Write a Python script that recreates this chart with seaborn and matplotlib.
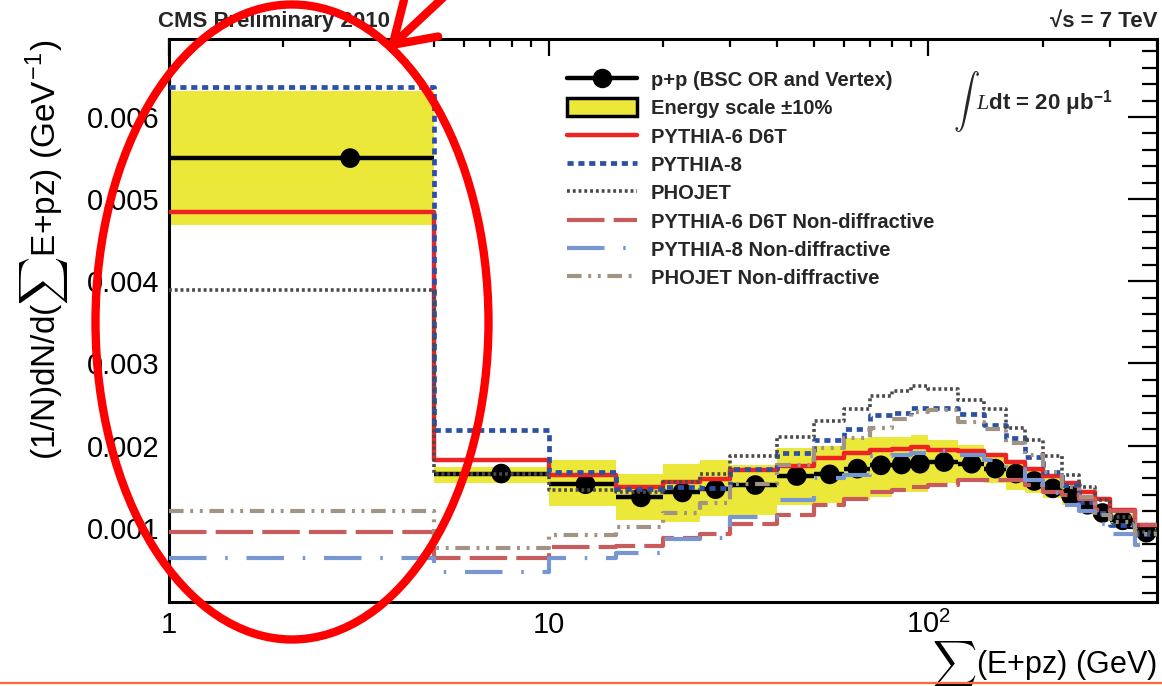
import numpy as np
import pandas as pd
import matplotlib
matplotlib.use("Agg")
import matplotlib.pyplot as plt
import seaborn as sns
from matplotlib.patches import Ellipse, Rectangle, FancyArrowPatch
from matplotlib.lines import Line2D
from matplotlib.ticker import (FixedLocator, FixedFormatter, MultipleLocator,
                               FuncFormatter, NullFormatter)

# ---------------- data ----------------
bin_edges = [1, 5, 10, 15, 20, 25, 30, 40, 50, 60, 70, 80, 90, 100, 120, 140,
             160, 180, 200, 225, 250, 275, 300, 350, 400]

data_pp = [0.00550, 0.00166, 0.00153, 0.00137, 0.00143, 0.00147, 0.00152, 0.00163,
           0.00165, 0.00172, 0.00176, 0.00177, 0.00178, 0.00180, 0.00178, 0.00172,
           0.00166, 0.00157, 0.00148, 0.00139, 0.00128, 0.00118, 0.00109, 0.00094]

escale_lo = [0.00469, 0.00154, 0.00126, 0.00109, 0.00107, 0.00114, 0.00116, 0.00128,
             0.00130, 0.00134, 0.00138, 0.00144, 0.00144, 0.00154, 0.00158, 0.00154,
             0.00146, 0.00142, 0.00136, 0.00128, 0.00119, 0.00110, 0.00102, 0.00088]
escale_hi = [0.00632, 0.00174, 0.00182, 0.00166, 0.00178, 0.00182, 0.00176, 0.00197,
             0.00200, 0.00209, 0.00211, 0.00211, 0.00213, 0.00207, 0.00201, 0.00191,
             0.00180, 0.00170, 0.00160, 0.00150, 0.00138, 0.00127, 0.00117, 0.00100]

pythia6_d6t = [0.004845, 0.001825, 0.00164, 0.00150, 0.00156, 0.00159, 0.00170, 0.00175,
               0.00185, 0.00191, 0.00195, 0.00196, 0.00198, 0.00195, 0.00193, 0.00189,
               0.00180, 0.00172, 0.00163, 0.00154, 0.00144, 0.00135, 0.00122, 0.00103]
pythia8 = [0.00636, 0.00219, 0.00168, 0.00147, 0.00150, 0.00149, 0.00172, 0.00191,
           0.00207, 0.00220, 0.00237, 0.00240, 0.00246, 0.00246, 0.00239, 0.00225,
           0.00209, 0.00186, 0.00168, 0.00152, 0.00131, 0.00118, 0.00103, 0.00093]
phojet = [0.00389, 0.00165, 0.00146, 0.00144, 0.00156, 0.00166, 0.00187, 0.00210,
          0.00230, 0.00245, 0.00260, 0.00267, 0.00272, 0.00269, 0.00256, 0.00244,
          0.00221, 0.00207, 0.00187, 0.00164, 0.00150, 0.00134, 0.00113, 0.00095]
pythia6_nd = [0.000952, 0.000627, 0.00077, 0.00078, 0.00087, 0.00092, 0.00105, 0.00116,
              0.00128, 0.00135, 0.00143, 0.00146, 0.00150, 0.00152, 0.00158, 0.00158,
              0.00158, 0.00152, 0.00144, 0.00140, 0.00135, 0.00122, 0.00120, 0.00103]
pythia8_nd = [0.000627, 0.000464, 0.000627, 0.000688, 0.00086, 0.00088, 0.00113, 0.00134,
              0.00160, 0.00164, 0.00187, 0.00189, 0.00191, 0.00193, 0.00189, 0.00183,
              0.00172, 0.00158, 0.00142, 0.00128, 0.00120, 0.00105, 0.00093, 0.00079]
phojet_nd = [0.00120, 0.000757, 0.000911, 0.00101, 0.00118, 0.00130, 0.00153, 0.00176,
             0.00197, 0.00209, 0.00221, 0.00233, 0.00241, 0.00243, 0.00229, 0.00220,
             0.00203, 0.00189, 0.00168, 0.00150, 0.00138, 0.00116, 0.00107, 0.00093]

labels = ["p+p (BSC OR and Vertex)", "Energy scale \u00b110%", "PYTHIA-6 D6T",
          "PYTHIA-8", "PHOJET", "PYTHIA-6 D6T Non-diffractive",
          "PYTHIA-8 Non-diffractive", "PHOJET Non-diffractive"]
x_tick_values = [1, 10, 100]
x_tick_labels = ["1", "10", r"10$^{\mathregular{2}}$"]

# ---------------- style ----------------
sns.set_theme(style="white")
plt.rcParams["font.family"] = ["Liberation Sans", "DejaVu Sans"]
plt.rcParams["mathtext.fontset"] = "custom"
plt.rcParams["mathtext.rm"] = "Liberation Sans"
plt.rcParams["mathtext.it"] = "Liberation Serif:italic"
plt.rcParams["mathtext.bf"] = "Liberation Sans:bold"

YELLOW = "#ece83a"
RED = "#ee2424"
BLUE = "#2c50a4"
DGRAY = "#4a4a4a"
ROSE = "#c85c5c"
LBLUE = "#7896d2"
TAUPE = "#a29483"

W, H = 1162, 686
fig = plt.figure(figsize=(W / 100, H / 100), dpi=100)
ax = fig.add_axes([169 / W, 1 - 601.7 / H, 988 / W, (601.7 - 39) / H])
ax.set_xscale("log")

# energy scale band
ax.fill_between(bin_edges, escale_lo + [escale_lo[-1]], escale_hi + [escale_hi[-1]],
                step="post", color=YELLOW, lw=0, zorder=1)

# data
centers = [(a + b) / 2 for a, b in zip(bin_edges[:-1], bin_edges[1:])]
ax.hlines(data_pp, bin_edges[:-1], bin_edges[1:], colors="black", lw=3.2, zorder=3)
sns.scatterplot(x=centers, y=data_pp, s=200, color="black", edgecolor="none",
                zorder=4, ax=ax, legend=False)

# MC step curves
mc = [
    (pythia6_d6t, RED, "-", 3.2),
    (pythia8, BLUE, (0, (1.3, 1.0)), 3.4),
    (phojet, DGRAY, (0, (0.8, 0.8)), 2.6),
    (pythia6_nd, ROSE, (0, (9, 2.2)), 3.0),
    (pythia8_nd, LBLUE, (0, (9, 4.5, 0.6, 4.5)), 3.0),
    (phojet_nd, TAUPE, (0, (3.5, 1.6, 0.7, 1.6, 0.7, 1.6)), 3.0),
]
handles = [
    Line2D([], [], color="black", lw=3.2, marker="o", ms=13),
    Rectangle((0, 0), 1, 1, facecolor=YELLOW, edgecolor="black", lw=2.5),
]
for i, (vals, col, ls, lw) in enumerate(mc):
    sns.lineplot(x=bin_edges, y=list(vals) + [vals[-1]], drawstyle="steps-post",
                 color=col, linestyle=ls, lw=lw, ax=ax, zorder=5 + i,
                 estimator=None, sort=False, legend=False)
    handles.append(Line2D([], [], color=col, linestyle=ls, lw=lw))

# axes
ax.set_xlim(1, 400)
ax.set_ylim(0.0001, 0.00695)
ax.xaxis.set_major_locator(FixedLocator(x_tick_values))
ax.xaxis.set_major_formatter(FixedFormatter(x_tick_labels))
minors = [m * d for d in (1, 10, 100) for m in range(2, 10) if m * d <= 400]
ax.xaxis.set_minor_locator(FixedLocator(minors))
ax.xaxis.set_minor_formatter(NullFormatter())
ax.yaxis.set_major_locator(MultipleLocator(0.001))
ax.yaxis.set_minor_locator(MultipleLocator(0.0002))
ax.yaxis.set_major_formatter(FuncFormatter(lambda v, p: f"{v:.3f}"))

ax.tick_params(which="both", direction="in", top=True, right=True,
               labelsize=21, colors="black")
ax.tick_params(axis="x", which="major", length=12, width=1.6, pad=7)
ax.tick_params(axis="x", which="minor", length=6, width=1.6)
ax.tick_params(axis="y", which="major", length=21, width=1.6, pad=7)
ax.tick_params(axis="y", which="minor", length=11, width=1.6)
for s in ax.spines.values():
    s.set_linewidth(2.2)
    s.set_color("black")

ax.set_ylabel(r"(1/N)dN/d($\sum$E+pz) (GeV$^{\mathregular{-1}}$)", fontsize=24,
              loc="top", math_fontfamily="cm", color="black")
ax.yaxis.set_label_coords(-0.1, 1.0)
ax.set_xlabel(r"$\sum$(E+pz) (GeV)", fontsize=22, loc="right",
              math_fontfamily="cm", color="black")
ax.xaxis.set_label_coords(1.0, -0.066)

leg = ax.legend(handles, labels, loc="upper left", bbox_to_anchor=(0.4028, 0.945),
                frameon=False, prop={"weight": "bold", "size": 14.5},
                handlelength=3.5, handleheight=1.0, handletextpad=0.65,
                labelspacing=0.42, borderpad=0, borderaxespad=0)

# texts
fig.text(158 / W, 1 - 21 / H, "CMS Preliminary 2010", fontsize=16, weight="bold",
         va="center", ha="left")
fig.text(1157 / W, 1 - 21 / H, "\u221as = 7 TeV", fontsize=16, weight="bold",
         va="center", ha="right")
fig.text(953 / W, 1 - 101 / H, r"$\int$", fontsize=19, va="center", ha="left",
         math_fontfamily="cm")
fig.text(976 / W, 1 - 110 / H, "$\\mathit{L}$dt = 20 \u03bcb$^{\\mathregular{-1}}$",
         fontsize=16, weight="bold", va="baseline", ha="left")

# hand-drawn red annotation
fig.add_artist(Ellipse((292 / W, 1 - 322 / H), 393 / W, 635 / H, fill=False,
                       edgecolor="#ff0000", lw=6, transform=fig.transFigure,
                       zorder=20))
fig.add_artist(FancyArrowPatch((447 / W, 1 + 6 / H), (385 / W, 1 - 52 / H),
                               arrowstyle="->,head_length=0.7,head_width=0.45",
                               mutation_scale=40, color="#ff0000", lw=6,
                               transform=fig.transFigure, zorder=20))
fig.add_artist(Line2D([0, 1], [1 - 682.5 / H] * 2, color="#ff6a33", lw=1.6,
                      transform=fig.transFigure))

fig.savefig("out.png", dpi=100)
